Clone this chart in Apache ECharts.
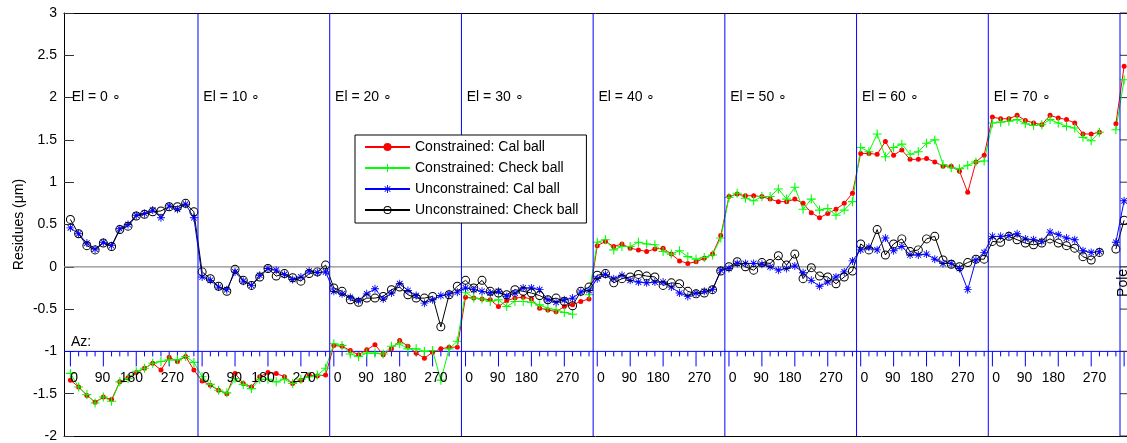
<!DOCTYPE html>
<html>
<head>
<meta charset="utf-8">
<title>Residues</title>
<script src="https://cdn.jsdelivr.net/npm/echarts@6/dist/echarts.min.js"></script>
<style>
  html, body { margin: 0; padding: 0; background: #fff; }
  #chart { width: 1127px; height: 443px; }
</style>
</head>
<body>
<div id="chart"></div>
<script>
// sections: 16 azimuth steps of 22.5 deg per elevation, then one pole point
const elLabels = ['El = 0 ∘', 'El = 10 ∘', 'El = 20 ∘', 'El = 30 ∘', 'El = 40 ∘', 'El = 50 ∘', 'El = 60 ∘', 'El = 70 ∘'];
const azLabels = ['0', '90', '180', '270'];
const perSection = 16;

// Constrained: Cal ball
const calCon = [
  -1.34, -1.42, -1.52, -1.60, -1.54, -1.57, -1.36, -1.31, -1.25, -1.20, -1.14, -1.22, -1.07, -1.12, -1.06, -1.22,
  -1.35, -1.40, -1.46, -1.50, -1.26, -1.38, -1.42, -1.30, -1.25, -1.26, -1.30, -1.38, -1.34, -1.28, -1.29, -1.28,
  -0.93, -0.94, -0.99, -1.04, -0.98, -0.92, -1.04, -0.97, -0.87, -0.94, -1.02, -1.08, -1.01, -0.97, -0.95, -0.95,
  -0.36, -0.37, -0.38, -0.39, -0.47, -0.40, -0.37, -0.36, -0.38, -0.49, -0.51, -0.53, -0.47, -0.45, -0.41, -0.38,
  0.25, 0.30, 0.24, 0.27, 0.22, 0.20, 0.18, 0.21, 0.22, 0.15, 0.07, 0.04, 0.06, 0.10, 0.15, 0.37,
  0.83, 0.86, 0.84, 0.84, 0.83, 0.80, 0.77, 0.77, 0.80, 0.75, 0.64, 0.58, 0.63, 0.68, 0.75, 0.87,
  1.34, 1.34, 1.33, 1.48, 1.32, 1.38, 1.27, 1.27, 1.28, 1.24, 1.19, 1.19, 1.13, 0.88, 1.24, 1.32,
  1.77, 1.75, 1.75, 1.79, 1.73, 1.70, 1.68, 1.79, 1.76, 1.74, 1.70, 1.57, 1.57, 1.59, null, 1.69,
  2.37
];

// Constrained: Check ball
const chkCon = [
  -1.26, -1.42, -1.51, -1.61, -1.54, -1.59, -1.36, -1.32, -1.24, -1.20, -1.14, -1.12, -1.10, -1.10, -1.06, -1.13,
  -1.30, -1.39, -1.46, -1.49, -1.32, -1.39, -1.44, -1.33, -1.33, -1.36, -1.33, -1.38, -1.33, -1.30, -1.28, -1.20,
  -0.91, -0.93, -1.03, -1.06, -1.02, -1.02, -1.03, -0.94, -0.91, -0.97, -0.97, -1.00, -0.99, -1.34, -0.97, -0.88,
  -0.30, -0.37, -0.38, -0.41, -0.39, -0.47, -0.41, -0.41, -0.42, -0.45, -0.49, -0.51, -0.54, -0.56, null, -0.33,
  0.29, 0.32, 0.20, 0.24, 0.24, 0.29, 0.27, 0.26, 0.18, 0.15, 0.19, 0.12, 0.09, 0.11, 0.14, 0.34,
  0.82, 0.87, 0.81, 0.78, 0.83, 0.83, 0.92, 0.80, 0.94, 0.68, 0.80, 0.67, 0.69, 0.61, 0.67, 0.77,
  1.41, 1.36, 1.57, 1.30, 1.41, 1.45, 1.33, 1.36, 1.46, 1.50, 1.21, 1.17, 1.16, 1.20, 1.24, 1.25,
  1.70, 1.71, 1.72, 1.74, 1.69, 1.67, 1.68, 1.74, 1.70, 1.66, 1.64, 1.53, 1.49, 1.59, null, 1.62,
  2.21
];

// Unconstrained: Cal ball
const calUnc = [
  0.46, 0.39, 0.28, 0.21, 0.29, 0.25, 0.45, 0.50, 0.61, 0.63, 0.67, 0.58, 0.72, 0.68, 0.74, 0.58,
  -0.12, -0.16, -0.24, -0.27, -0.06, -0.17, -0.22, -0.10, -0.02, -0.04, -0.09, -0.15, -0.12, -0.05, -0.07, -0.06,
  -0.29, -0.32, -0.36, -0.40, -0.32, -0.26, -0.38, -0.31, -0.20, -0.28, -0.34, -0.43, -0.39, -0.34, -0.32, -0.30,
  -0.25, -0.27, -0.29, -0.31, -0.29, -0.35, -0.31, -0.25, -0.25, -0.27, -0.39, -0.42, -0.39, -0.37, -0.30, -0.28,
  -0.14, -0.09, -0.14, -0.10, -0.16, -0.18, -0.19, -0.18, -0.18, -0.24, -0.31, -0.35, -0.31, -0.29, -0.27, -0.04,
  -0.02, 0.04, 0.04, 0.04, 0.03, 0.00, -0.04, -0.02, 0.01, -0.07, -0.16, -0.23, -0.18, -0.12, -0.06, 0.07,
  0.20, 0.23, 0.20, 0.34, 0.19, 0.24, 0.14, 0.14, 0.15, 0.09, 0.04, 0.04, -0.02, -0.27, 0.08, 0.17,
  0.36, 0.36, 0.37, 0.39, 0.33, 0.32, 0.30, 0.41, 0.38, 0.34, 0.32, 0.19, 0.17, 0.18, null, 0.29,
  0.78
];

// Unconstrained: Check ball
const chkUnc = [
  0.56, 0.39, 0.25, 0.20, 0.28, 0.24, 0.44, 0.48, 0.60, 0.62, 0.65, 0.66, 0.71, 0.71, 0.75, 0.65,
  -0.06, -0.14, -0.23, -0.29, -0.03, -0.16, -0.22, -0.12, -0.02, -0.11, -0.08, -0.13, -0.17, -0.08, -0.06, 0.02,
  -0.25, -0.29, -0.39, -0.42, -0.37, -0.37, -0.35, -0.27, -0.24, -0.33, -0.37, -0.37, -0.35, -0.71, -0.33, -0.23,
  -0.16, -0.25, -0.16, -0.29, -0.31, -0.33, -0.27, -0.29, -0.31, -0.34, -0.39, -0.37, -0.41, -0.46, -0.29, -0.24,
  -0.10, -0.08, -0.19, -0.14, -0.12, -0.09, -0.11, -0.12, -0.22, -0.19, -0.20, -0.29, -0.32, -0.31, -0.27, -0.05,
  0.00, 0.06, 0.00, -0.04, 0.05, 0.04, 0.13, 0.02, 0.15, -0.14, -0.01, -0.11, -0.12, -0.20, -0.12, -0.05,
  0.27, 0.20, 0.44, 0.14, 0.27, 0.33, 0.18, 0.20, 0.33, 0.36, 0.08, 0.03, 0.00, 0.05, 0.09, 0.09,
  0.30, 0.29, 0.36, 0.32, 0.28, 0.26, 0.28, 0.33, 0.28, 0.25, 0.22, 0.12, 0.08, 0.17, null, 0.21,
  0.55
];

const font = 'Liberation Sans, Arial, sans-serif';
const xMin = -0.7775, xMax = 128.35;
const yMin = -2, yMax = 3, yStep = 0.5;
const azLevel = -1;

// marker shapes (matlab-like '+', '*' and open 'o')
const plusPath = 'path://M4.4,0H5.6V4.4H10V5.6H5.6V10H4.4V5.6H0V4.4H4.4Z';
const starPath = 'path://M4.45,0H5.55V10H4.45Z M0,4.45H10V5.55H0Z M1.89,1.11L8.89,8.11L8.11,8.89L1.11,1.89Z M8.11,1.11L8.89,1.89L1.89,8.89L1.11,8.11Z';
const ringPath = 'path://M5,0A5,5,0,1,1,5,10A5,5,0,1,1,5,0Z M5,1.1A3.9,3.9,0,1,0,5,8.9A3.9,3.9,0,1,0,5,1.1Z';

const toXY = arr => arr.map((v, i) => [i, v]);
const nPoints = calCon.length;
const nSections = elLabels.length;

// section boundaries (kind 0), drawn above the data
const bounds = [];
for (let k = 1; k <= nSections; k++) bounds.push([k * perSection - 0.5, k, 0]);

// other guides: 1 = zero line, 2 = az line, 3 = az tick, 4 = pole axis tick
const guides = [];
guides.push([xMin, 0, 1]);
guides.push([xMin, azLevel, 2]);
for (let i = 0; i < nPoints; i++) guides.push([i, azLevel, 3]);
for (let v = yMin; v <= yMax + 1e-9; v += yStep) guides.push([nSections * perSection - 0.5, v, 4]);

// text annotations
const azOffsets = [0.45, 3.9, 7.4, 12.4];
const texts = [];
elLabels.forEach((t, k) => {
  texts.push({ x: k * perSection + 0.15, y: 2, text: t, align: 'left' });
  azLabels.forEach((a, m) => {
    texts.push({ x: k * perSection + azOffsets[m], y: -1.32, text: a, align: 'center' });
  });
});
texts.push({ x: 0.07, y: -0.89, text: 'Az:', align: 'left' });
texts.push({ x: 127.87, y: -0.19, text: 'Pole', align: 'center', rotate: true });

const myChart = echarts.init(document.getElementById('chart'));

const drawGuide = function (params, api) {
  const kind = api.value(2);
  let a, b, color = '#0000ff', width = 1;
  if (kind === 0) {
    a = api.coord([api.value(0), yMax]);
    b = api.coord([api.value(0), yMin]);
    // a distinct stroke string per boundary so the canvas colour is always set
    color = 'rgba(0,0,255,' + (1 - api.value(1) * 0.001).toFixed(3) + ')';
  } else if (kind === 1 || kind === 2) {
    a = api.coord([xMin, api.value(1)]);
    b = api.coord([xMax, api.value(1)]);
    if (kind === 1) { color = '#8c8c8c'; width = 1.2; }
  } else if (kind === 3) {
    const i = api.value(0);
    a = api.coord([i, api.value(1)]);
    const len = (i % perSection) % 4 === 0 ? 15 : 5;
    b = [a[0], a[1] + len];
  } else {
    a = api.coord([api.value(0), api.value(1)]);
    b = [a[0] + 8, a[1]];
    color = '#333';
  }
  return {
    type: 'line',
    shape: { x1: a[0], y1: a[1], x2: b[0], y2: b[1] },
    style: { stroke: color, lineWidth: width }
  };
};

const lineSeries = (name, data, color, symbol, size) => ({
  name: name,
  type: 'line',
  data: toXY(data),
  symbol: symbol,
  symbolSize: size,
  connectNulls: false,
  silent: true,
  lineStyle: { color: color, width: 1 },
  itemStyle: { color: color },
  emphasis: { disabled: true },
  z: 3
});

const xAxisBase = {
  type: 'value',
  min: xMin,
  max: xMax,
  axisLine: { show: true, onZero: false, lineStyle: { color: '#000', width: 1 } },
  axisTick: { show: false },
  axisLabel: { show: false },
  splitLine: { show: false }
};

const options = {
  animation: false,
  textStyle: { fontFamily: font },
  grid: { left: 64, top: 13, right: 0, bottom: 7 },
  legend: {
    orient: 'vertical',
    left: 355,
    top: 135,
    z: 10,
    selectedMode: false,
    data: ['Constrained: Cal ball', 'Constrained: Check ball', 'Unconstrained: Cal ball', 'Unconstrained: Check ball'],
    backgroundColor: '#fff',
    borderColor: '#000',
    borderWidth: 1,
    padding: [5, 8, 6, 9],
    itemWidth: 45,
    itemHeight: 10,
    itemGap: 7,
    textStyle: { fontSize: 14, color: '#000', fontFamily: font }
  },
  xAxis: [
    Object.assign({ position: 'bottom' }, xAxisBase),
    Object.assign({ position: 'top' }, xAxisBase)
  ],
  yAxis: {
    type: 'value',
    min: yMin,
    max: yMax,
    interval: yStep,
    name: 'Residues (μm)',
    nameLocation: 'middle',
    nameGap: 38,
    nameMoveOverlap: false,
    nameTextStyle: { fontSize: 14, color: '#000', fontFamily: font },
    axisLine: { show: true, onZero: false, lineStyle: { color: '#000', width: 1 } },
    axisTick: { show: true, inside: true, length: 10, lineStyle: { color: '#333' } },
    axisLabel: { fontSize: 14, color: '#000', margin: 7, fontFamily: font },
    splitLine: { show: false }
  },
  series: [
    { type: 'custom', silent: true, data: guides, z: 2, renderItem: drawGuide },
    lineSeries('Constrained: Cal ball', calCon, '#ff0000', 'circle', 5),
    lineSeries('Constrained: Check ball', chkCon, '#00ff00', plusPath, 9),
    lineSeries('Unconstrained: Cal ball', calUnc, '#0000ff', starPath, 8),
    lineSeries('Unconstrained: Check ball', chkUnc, '#000000', ringPath, 9),
    { type: 'custom', silent: true, data: bounds, z: 5, renderItem: drawGuide },
    {
      type: 'custom',
      silent: true,
      data: texts.map(t => [t.x, t.y]),
      z: 6,
      renderItem: function (params, api) {
        const t = texts[params.dataIndex];
        const p = api.coord([api.value(0), api.value(1)]);
        return {
          type: 'text',
          x: p[0],
          y: p[1],
          rotation: t.rotate ? Math.PI / 2 : 0,
          style: {
            text: t.text,
            fill: '#000',
            fontSize: 14,
            fontFamily: font,
            align: t.align,
            verticalAlign: 'middle'
          }
        };
      }
    }
  ]
};

myChart.setOption(options);
</script>
</body>
</html>
